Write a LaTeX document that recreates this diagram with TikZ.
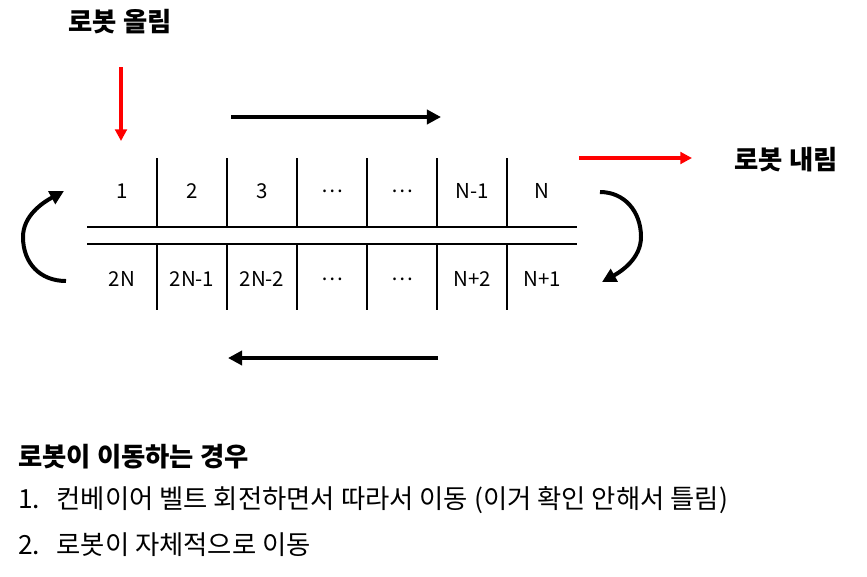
\documentclass[tikz,border=0pt]{standalone}
\usepackage{fontspec}
\setmainfont{Noto Sans CJK KR}
\usetikzlibrary{arrows.meta}
\tikzset{
  cell/.style={font=\fontsize{17.5}{20}\selectfont},
  heading/.style={font=\fontsize{22.5}{26}\selectfont\bfseries},
  note/.style={font=\fontsize{22.5}{26}\selectfont,anchor=west,inner sep=0pt},
  flow/.style={line width=3.8pt,-{Triangle[length=12pt,width=12pt]}},
  turn/.style={line width=3.4pt,-{Triangle[length=12pt,width=12pt]}},
  robot/.style={red,line width=3pt,-{Triangle[length=10pt,width=10pt]}},
  belt/.style={line width=1.2pt},
}
\begin{document}
\begin{tikzpicture}[x=0.03cm,y=-0.03cm]
		\useasboundingbox (0,0) rectangle (867,576);
		% belt
		\draw[belt] (87,227)--(577,227) (87,244)--(577,244);
		\draw[belt] (157,158)--(157,227) (227,158)--(227,227) (297,158)--(297,227)
		            (367,158)--(367,227) (437,158)--(437,227) (507,158)--(507,227);
		\draw[belt] (157,244)--(157,310) (227,244)--(227,310) (297,244)--(297,310)
		            (367,244)--(367,310) (437,244)--(437,310) (507,244)--(507,310);
		\node[cell] (t1) at (122,191) {1};
		\node[cell] (t2) at (192,191) {2};
		\node[cell] (t3) at (262,191) {3};
		\node[cell] (t4) at (332,191) {⋯};
		\node[cell] (t5) at (402,191) {⋯};
		\node[cell] (t6) at (472,191) {N-1};
		\node[cell] (t7) at (542,191) {N};
		\node[cell] (b1) at (122,279) {2N};
		\node[cell] (b2) at (192,279) {2N-1};
		\node[cell] (b3) at (262,279) {2N-2};
		\node[cell] (b4) at (332,279) {⋯};
		\node[cell] (b5) at (402,279) {⋯};
		\node[cell] (b6) at (472,279) {N+2};
		\node[cell] (b7) at (542,279) {N+1};
		% robot on / off
		\node[heading] (up) at (120,22) {로봇 올림};
		\node[heading] (down) at (786,160) {로봇 내림};
		\coordinate (U1) at (121,67);  \coordinate (U2) at (121,141);
		\coordinate (D1) at (579,158); \coordinate (D2) at (692,158);
		\draw[robot] (U1)--(U2);
		\draw[robot] (D1)--(D2);
		% belt direction
		\coordinate (A) at (231,117); \coordinate (B) at (441,117);
		\coordinate (C) at (438,358); \coordinate (D) at (228,358);
		\draw[flow] (A)--(B);
		\draw[flow] (C)--(D);
		\coordinate (L1) at (66,281);  \coordinate (L2) at (64,191);
		\coordinate (R1) at (600,192); \coordinate (R2) at (602,282);
		\draw[turn] (L1) .. controls (40,281) and (23,263) .. (23,237)
		                 .. controls (23,216) and (42,203) .. (L2);
		\draw[turn] (R1) .. controls (624,192) and (641,211) .. (641,237)
		                 .. controls (641,258) and (622,271) .. (R2);
		% notes
		\node[note,font=\fontsize{22.5}{26}\selectfont\bfseries] (n0) at (18,457) {로봇이 이동하는 경우};
		\node[note] (n1) at (18,500) {\makebox[1.15cm][l]{1.}컨베이어 벨트 회전하면서 따라서 이동 (이거 확인 안해서 틀림)};
		\node[note] (n2) at (18,545) {\makebox[1.15cm][l]{2.}로봇이 자체적으로 이동};
\end{tikzpicture}
\end{document}
